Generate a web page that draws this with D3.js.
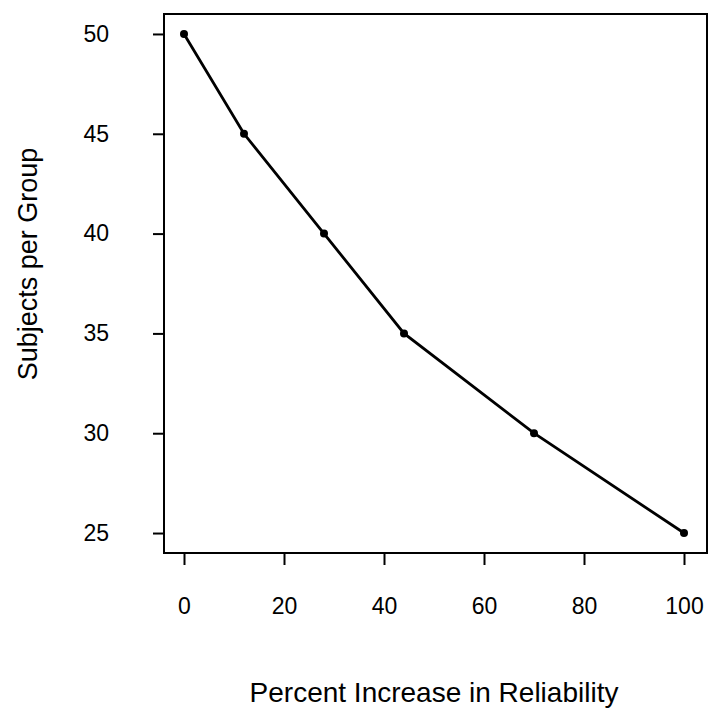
<!DOCTYPE html>
<html>
<head>
<meta charset="utf-8">
<script src="https://cdn.jsdelivr.net/npm/d3@7"></script>
<style>
  body { margin: 0; background: #fff; }
  text { font-family: "Liberation Sans", Arial, sans-serif; fill: #000; }
</style>
</head>
<body>
<script>
// chart values
var reliability = [0, 12, 28, 44, 70, 100];
var subjects = [50, 45, 40, 35, 30, 25];
var xTicks = [0, 20, 40, 60, 80, 100];
var yTicks = [25, 30, 35, 40, 45, 50];

var width = 710,
    height = 709;

var box = { left: 164, right: 707, top: 14, bottom: 553 };

var svg = d3.select("body")
    .append("svg")
    .attr("width", width)
    .attr("height", height);

// R style axis extension (4% each side)
var x = d3.scaleLinear()
    .domain([-4, 104])
    .range([box.left, box.right - 3]);

var y = d3.scaleLinear()
    .domain([24, 51])
    .range([box.bottom, box.top]);

// frame
svg.append("rect")
    .attr("x", box.left)
    .attr("y", box.top)
    .attr("width", box.right - box.left)
    .attr("height", box.bottom - box.top)
    .attr("fill", "none")
    .attr("stroke", "#000")
    .attr("stroke-width", 2);

// x axis
var xAxis = d3.axisBottom(x)
    .tickValues(xTicks)
    .tickSize(12)
    .tickPadding(33)
    .tickFormat(d3.format("d"));

var gx = svg.append("g")
    .attr("transform", "translate(0," + box.bottom + ")")
    .call(xAxis);
gx.select(".domain").remove();
gx.selectAll(".tick line").attr("stroke-width", 2);
gx.selectAll("text").style("font-size", "23px");

// y axis
var yAxis = d3.axisLeft(y)
    .tickValues(yTicks)
    .tickSize(11)
    .tickPadding(44)
    .tickFormat(d3.format("d"));

var gy = svg.append("g")
    .attr("transform", "translate(" + box.left + ",0)")
    .call(yAxis);
gy.select(".domain").remove();
gy.selectAll(".tick line").attr("stroke-width", 2);
gy.selectAll("text").style("font-size", "23px");

// axis titles
svg.append("text")
    .attr("x", 434)
    .attr("y", 702)
    .attr("text-anchor", "middle")
    .style("font-size", "28px")
    .text("Percent Increase in Reliability");

svg.append("text")
    .attr("transform", "translate(37,264) rotate(-90)")
    .attr("text-anchor", "middle")
    .style("font-size", "27px")
    .text("Subjects per Group");

// line and points
var data = reliability.map(function (d, i) {
    return { x: d, y: subjects[i] };
});

var line = d3.line()
    .x(function (d) { return x(d.x); })
    .y(function (d) { return y(d.y); });

svg.append("path")
    .datum(data)
    .attr("d", line)
    .attr("fill", "none")
    .attr("stroke", "#000")
    .attr("stroke-width", 2.8);

svg.selectAll("circle")
    .data(data)
    .enter()
    .append("circle")
    .attr("cx", function (d) { return x(d.x); })
    .attr("cy", function (d) { return y(d.y); })
    .attr("r", 4)
    .attr("fill", "#000");
</script>
</body>
</html>
